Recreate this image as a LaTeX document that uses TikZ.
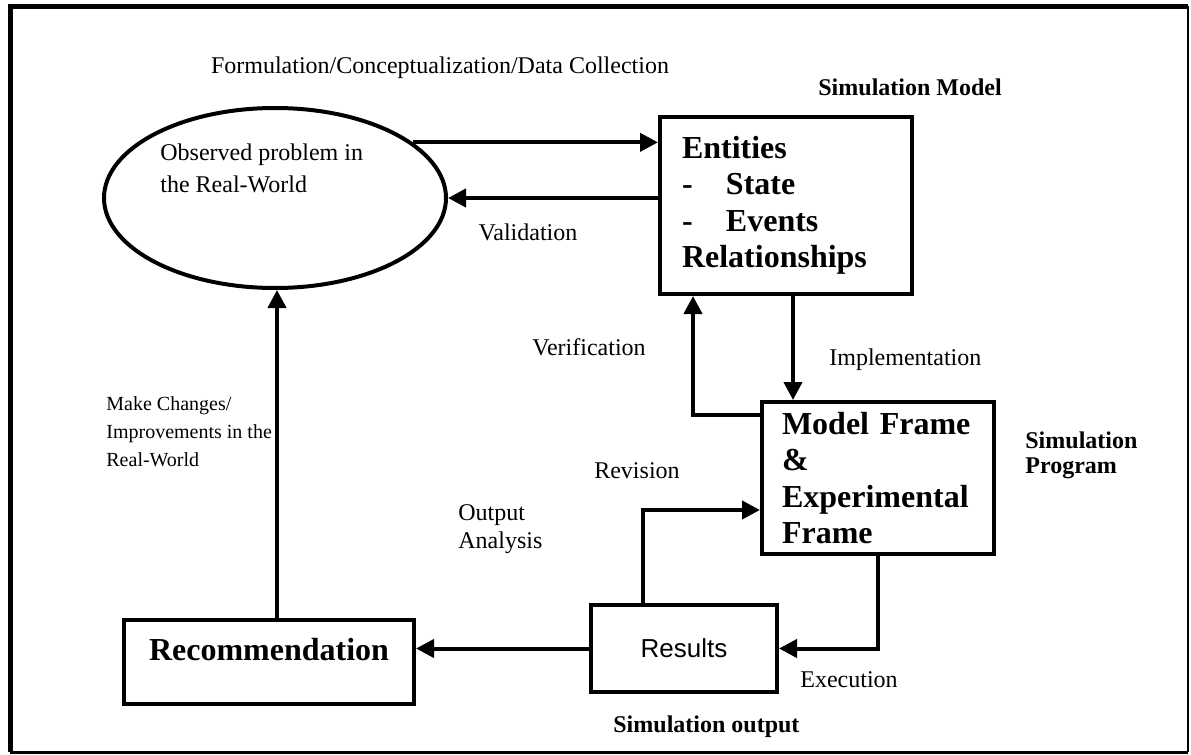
\documentclass[tikz,border=0pt]{standalone}
\usepackage{fontspec}
\setmainfont{Liberation Serif}
\newfontfamily\resultsfont{Liberation Sans}
\usetikzlibrary{shapes.geometric,arrows.meta}

\tikzset{
	box/.style={draw, rectangle, line width=2pt, inner sep=0pt, anchor=north west},
	bigbold/.style={font=\fontsize{16}{18.2}\selectfont\bfseries},
	lbl/.style={font=\fontsize{12}{14}\selectfont, inner sep=0pt},
	simlbl/.style={font=\fontsize{12}{12.5}\selectfont\bfseries, inner sep=0pt},
	arr/.style={line width=2pt, -{Triangle[length=9pt,width=9pt]}},
}

\begin{document}
\begin{tikzpicture}[x=0.5pt, y=-0.5pt]
			\useasboundingbox (0,0) rectangle (1191,755);

			% frame
			\draw[line width=2.5pt] (10,752) -- (10,6) -- (1188,6);
			\draw[line width=0.8pt] (1188,6) -- (1188,752);
			\draw[line width=1.5pt] (10,752) -- (1188,752);

			% shapes
			\node[draw, ellipse, line width=2pt, inner sep=0pt,
				minimum width=171pt, minimum height=90pt] (prob) at (275,198) {};
			\node[lbl, font=\fontsize{12}{16}\selectfont, align=left, anchor=north west] (probtxt) at (160,143.5)
				{Observed problem in\\the Real-World};

			\node[box, bigbold, minimum width=126pt, minimum height=88.5pt,
				text width=104pt, align=left] (ent) at (658,115)
				{Entities\\\makebox[22pt][l]{-}State\\\makebox[22pt][l]{-}Events\\Relationships};

			\node[box, bigbold, minimum width=116pt, minimum height=76pt,
				text width=96pt, align=left] (model) at (760,400)
				{Model Frame\\\&\\Experimental\\Frame};

			\node[box, minimum width=93pt, minimum height=43.5pt,
				font=\fontsize{13}{15}\resultsfont] (res) at (589,603) {Results};

			\node[box, bigbold, minimum width=145pt, minimum height=42pt,
				text depth=13pt] (rec) at (122,618) {Recommendation};

			% connectors
			\draw[arr] (prob.22.7) -- (prob.22.7 -| ent.west);
			\draw[arr] (ent.west |- prob.east) -- (prob.east);
			\draw[arr] ([xshift=67.5pt]ent.south west) -- ([xshift=67.5pt]ent.south west |- model.north);
			\draw[arr] ([yshift=-7.5pt]model.north west) -| ([xshift=17.5pt]ent.south west);
			\draw[arr] (model.south) |- (res.east);
			\draw[arr] ([xshift=27pt]res.north west) |- ([yshift=-55pt]model.north west);
			\draw[arr] (res.west) -- (res.west -| rec.east);
			\draw[arr] ([xshift=1pt]rec.north -| prob.south) -- ([xshift=1pt]prob.south);

			% labels
			\node[lbl, anchor=base] (formlbl) at (440,74) {Formulation/Conceptualization/Data Collection};
			\node[simlbl, anchor=base west] (simmodel) at (818,95) {Simulation Model};
			\node[lbl, anchor=base] (validlbl) at (528,240) {Validation};
			\node[lbl, anchor=base west] (verilbl) at (532,355) {Verification};
			\node[lbl, anchor=base west] (impllbl) at (829,365) {Implementation};
			\node[simlbl, align=left, anchor=north west] (simprog) at (1025,431.5) {Simulation\\Program};
			\node[lbl, font=\fontsize{10}{14}\selectfont, align=left, anchor=north west] (chglbl) at (106,396)
				{Make Changes/\\Improvements in the\\Real-World};
			\node[lbl, anchor=base] (revlbl) at (637,478) {Revision};
			\node[lbl, align=left, anchor=north west] (outlbl) at (458,504.5) {Output\\Analysis};
			\node[lbl, anchor=base west] (execlbl) at (800,687) {Execution};
			\node[simlbl, anchor=base west] (simout) at (613,732) {Simulation output};
		\end{tikzpicture}
\end{document}
